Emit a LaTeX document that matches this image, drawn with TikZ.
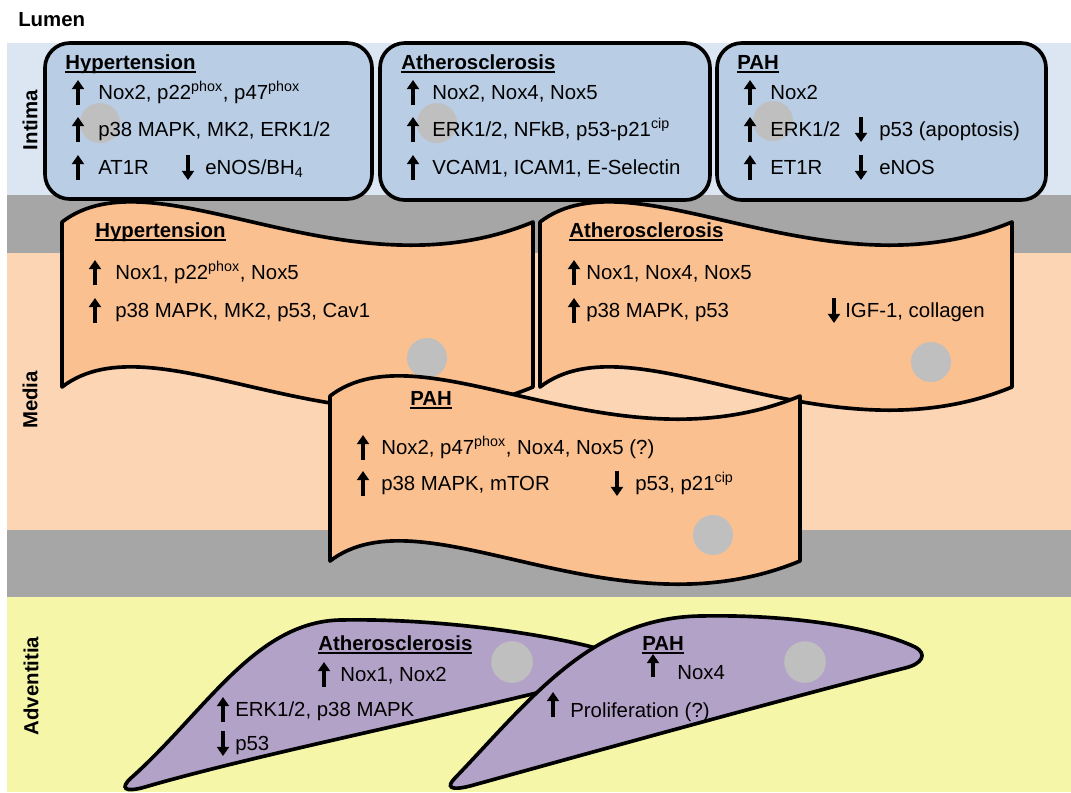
\documentclass[tikz,border=0pt]{standalone}
\usepackage{fontspec}
\setmainfont{Liberation Sans}
\usetikzlibrary{arrows.meta}
\definecolor{intimabg}{HTML}{DCE6F2}
\definecolor{intimacell}{HTML}{B9CDE5}
\definecolor{layergray}{HTML}{A6A6A6}
\definecolor{mediabg}{HTML}{FCD5B5}
\definecolor{mediacell}{HTML}{FAC090}
\definecolor{adventbg}{HTML}{F6F6A8}
\definecolor{fibrocell}{HTML}{B3A2C7}
\definecolor{nucleus}{HTML}{BFBFBF}
\newcommand{\ulin}[1]{\setbox0\hbox{#1}\rlap{\rule[-2.8pt]{\wd0}{1.4pt}}\box0}

\begin{document}
\begin{tikzpicture}[
    x=0.025cm, y=-0.025cm,
    font=\fontsize{14.5}{17}\selectfont,
    txt/.style={anchor=base west, inner sep=0pt},
    ttl/.style={anchor=base west, inner sep=0pt, font=\fontsize{14.5}{17}\selectfont\bfseries},
    layer/.style={font=\fontsize{14.5}{17}\selectfont\bfseries, rotate=90},
    icell/.style={fill=intimacell, draw, line width=2.6pt, rounded corners=0.62cm},
    mcell/.style={fill=mediacell, draw, line width=2.6pt, line join=round},
    fcell/.style={fill=fibrocell, draw, line width=2.6pt},
    upar/.style={-{Triangle[length=6.5pt,width=8.5pt]}, line width=2.4pt}
]
\useasboundingbox (0,0) rectangle (1071,792);

% Layers
\fill[intimabg] (7,43) rectangle (1071,195);
\fill[layergray] (7,195) rectangle (1071,253);
\fill[mediabg] (7,253) rectangle (1071,530);
\fill[layergray] (7,530) rectangle (1071,597);
\fill[adventbg] (7,597) rectangle (1071,792);

\node[ttl] (lumen) at (18,26) {Lumen};
\node[layer] (intima) at (30,120) {Intima};
\node[layer] (media) at (30,400) {Media};
\node[layer] (advent) at (31,686) {Adventitia};

% Intima: endothelial cells
\draw[icell] (45,43) rectangle (372,199);
\draw[icell] (380,43) rectangle (710,200);
\draw[icell] (717,43) rectangle (1046,200);
\fill[nucleus] (100,123) circle[radius=0.5cm];
\fill[nucleus] (437,123) circle[radius=0.5cm];
\fill[nucleus] (773,121) circle[radius=0.5cm];

% Hypertension (intima)
\node[ttl] (ihyT) at (65,69) {\ulin{Hypertension}};
\draw[upar] (78,105) -- (78,80);
\node[txt] (ihy1) at (98,99) {Nox2, p22\textsuperscript{phox}, p47\textsuperscript{phox}};
\draw[upar] (78,142) -- (78,117);
\node[txt] (ihy2) at (98,136) {p38 MAPK, MK2, ERK1/2};
\draw[upar] (78,180) -- (78,155);
\node[txt] (ihy3) at (98,174) {AT1R};
\draw[upar] (188,155) -- (188,180);
\node[txt] (ihy4) at (205,174) {eNOS/BH\textsubscript{4}};

% Atherosclerosis (intima)
\node[ttl] (iatT) at (401,69) {\ulin{Atherosclerosis}};
\draw[upar] (413,105) -- (413,80);
\node[txt] (iat1) at (432,99) {Nox2, Nox4, Nox5};
\draw[upar] (413,142) -- (413,117);
\node[txt] (iat2) at (432,136) {ERK1/2, NFkB, p53-p21\textsuperscript{cip}};
\draw[upar] (413,180) -- (413,155);
\node[txt] (iat3) at (432,174) {VCAM1, ICAM1, E-Selectin};

% PAH (intima)
\node[ttl] (ipaT) at (737,69) {\ulin{PAH}};
\draw[upar] (750,105) -- (750,80);
\node[txt] (ipa1) at (770,99) {Nox2};
\draw[upar] (750,142) -- (750,117);
\node[txt] (ipa2) at (770,136) {ERK1/2};
\draw[upar] (861,117) -- (861,142);
\node[txt] (ipa3) at (879,136) {p53 (apoptosis)};
\draw[upar] (750,180) -- (750,155);
\node[txt] (ipa4) at (770,174) {ET1R};
\draw[upar] (861,155) -- (861,180);
\node[txt] (ipa5) at (879,174) {eNOS};

% Media: smooth muscle cells
\draw[mcell] (62,222) .. controls (156,150) and (345,300) .. (533,222)
    -- (533,387) .. controls (345,465) and (156,315) .. (62,387) -- cycle;
\fill[nucleus] (427,358) circle[radius=0.5cm];
\node[ttl] (mhyT) at (95,237) {\ulin{Hypertension}};
\draw[upar] (95,285) -- (95,260);
\node[txt] (mhy1) at (115,279) {Nox1, p22\textsuperscript{phox}, Nox5};
\draw[upar] (95,323) -- (95,298);
\node[txt] (mhy2) at (115,317) {p38 MAPK, MK2, p53, Cav1};

\draw[mcell] (540,222) .. controls (634,150) and (823,300) .. (1012,222)
    -- (1012,387) .. controls (823,465) and (634,315) .. (540,387) -- cycle;
\fill[nucleus] (931,362) circle[radius=0.5cm];
\node[ttl] (matT) at (569,237) {\ulin{Atherosclerosis}};
\draw[upar] (574,285) -- (574,260);
\node[txt] (mat1) at (586,279) {Nox1, Nox4, Nox5};
\draw[upar] (574,323) -- (574,298);
\node[txt] (mat2) at (586,317) {p38 MAPK, p53};
\draw[upar] (834,298) -- (834,323);
\node[txt] (mat3) at (845,317) {IGF-1, collagen};

\draw[mcell] (330,396) .. controls (424,324) and (612,474) .. (800,396)
    -- (800,561) .. controls (612,639) and (424,489) .. (330,561) -- cycle;
\fill[nucleus] (713,535) circle[radius=0.5cm];
\node[ttl] (mpaT) at (410,405) {\ulin{PAH}};
\draw[upar] (363,460) -- (363,435);
\node[txt] (mpa1) at (381,454) {Nox2, p47\textsuperscript{phox}, Nox4, Nox5 (?)};
\draw[upar] (363,496) -- (363,471);
\node[txt] (mpa2) at (381,490) {p38 MAPK, mTOR};
\draw[upar] (617,471) -- (617,496);
\node[txt] (mpa3) at (635,490) {p53, p21\textsuperscript{cip}};

% Adventitia: fibroblasts
\draw[fcell] (131,778) .. controls (205,712) and (255,622) .. (340,620)
    .. controls (440,618) and (560,635) .. (620,655)
    .. controls (640,662) and (632,670) .. (615,673)
    .. controls (470,712) and (265,752) .. (145,787)
    .. controls (124,793) and (120,788) .. cycle;
\fill[nucleus] (512,662) circle[radius=0.52cm];
\node[ttl] (aatT) at (318,650) {\ulin{Atherosclerosis}};
\draw[upar] (324,687) -- (324,662);
\node[txt] (aat1) at (340,681) {Nox1, Nox2};
\draw[upar] (223,722) -- (223,697);
\node[txt] (aat2) at (235,716) {ERK1/2, p38 MAPK};
\draw[upar] (223,731) -- (223,756);
\node[txt] (aat3) at (235,750) {p53};

\draw[fcell] (455,778) .. controls (530,700) and (590,618) .. (700,616)
    .. controls (800,614) and (880,630) .. (915,647)
    .. controls (928,654) and (922,664) .. (905,668)
    .. controls (780,700) and (600,750) .. (470,786)
    .. controls (450,791) and (446,787) .. cycle;
\fill[nucleus] (805,662) circle[radius=0.52cm];
\node[ttl] (apaT) at (642,650) {\ulin{PAH}};
\draw[upar] (653,677) -- (653,654);
\node[txt] (apa1) at (677,679) {Nox4};
\draw[upar] (553,717) -- (553,692);
\node[txt] (apa2) at (570,717) {Proliferation (?)};
\end{tikzpicture}
\end{document}
